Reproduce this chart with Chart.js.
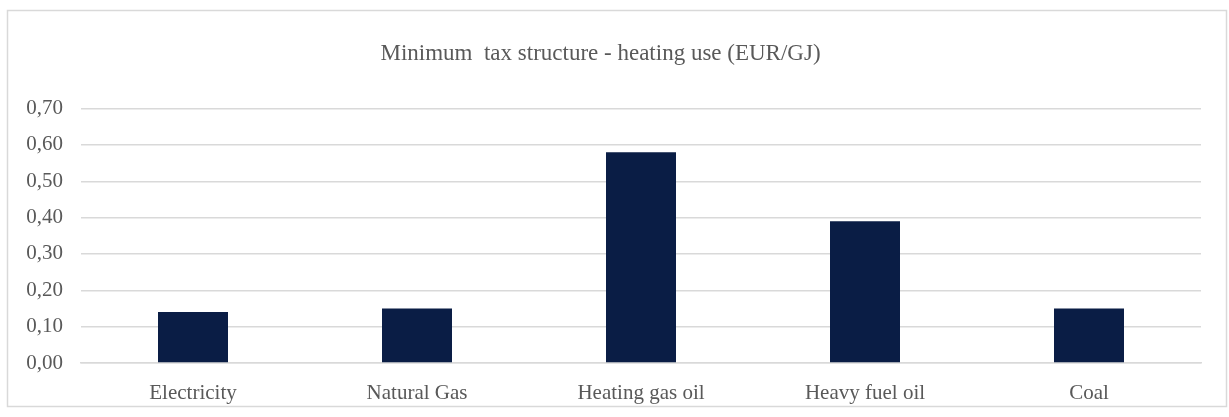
<!DOCTYPE html>
<html>
<head>
<meta charset="utf-8">
<title>Minimum tax structure - heating use</title>
<script src="https://cdn.jsdelivr.net/npm/chart.js@4/dist/chart.umd.min.js"></script>
<style>
    html, body { margin: 0; padding: 0; background: #ffffff; }
    #wrap { width: 1229px; height: 417px; }
</style>
</head>
<body>
<div id="wrap"><canvas id="taxChart" width="1229" height="417"></canvas></div>
<script>
// ==========================================
// Minimum tax structure - heating use
// ==========================================

const categories = ['Electricity', 'Natural Gas', 'Heating gas oil', 'Heavy fuel oil', 'Coal'];
const minTaxEurPerGj = [0.14, 0.15, 0.58, 0.39, 0.15];
const yTicks = [0, 0.1, 0.2, 0.3, 0.4, 0.5, 0.6, 0.7];

const SERIF = "'Liberation Serif', 'Times New Roman', serif";
const TEXT_GREY = '#595959';
const GRID_GREY = '#d9d9d9';

// Thin light frame around the whole chart
const frame = {
    id: 'frame',
    beforeDraw(chart) {
        const c = chart.ctx;
        c.save();
        c.fillStyle = '#ffffff';
        c.fillRect(0, 0, chart.width, chart.height);
        c.strokeStyle = GRID_GREY;
        c.lineWidth = 1.5;
        c.strokeRect(7.5, 10.5, 1219, 396);
        c.restore();
    }
};

new Chart(document.getElementById('taxChart'), {
    type: 'bar',
    data: {
        labels: categories,
        datasets: [{
            label: 'EUR/GJ',
            data: minTaxEurPerGj,
            backgroundColor: '#0a1d45',
            borderWidth: 0,
            categoryPercentage: 1,
            barPercentage: 0.3125
        }]
    },
    options: {
        responsive: false,
        animation: false,
        layout: {
            padding: { left: 0, right: 28, top: 0, bottom: 12 }
        },
        plugins: {
            legend: { display: false },
            tooltip: { enabled: false },
            title: {
                display: true,
                text: 'Minimum  tax structure - heating use (EUR/GJ)',
                color: TEXT_GREY,
                font: { family: SERIF, size: 23, weight: 'normal' },
                padding: { top: 40, bottom: 41 }
            }
        },
        scales: {
            x: {
                // fixed band under the plot for the category names
                afterFit(scale) { scale.height = 42; },
                grid: { display: false, drawTicks: false },
                border: { display: true, color: GRID_GREY, width: 1.5 },
                ticks: {
                    color: TEXT_GREY,
                    font: { family: SERIF, size: 21 },
                    padding: 18
                }
            },
            y: {
                min: 0,
                max: 0.7,
                afterFit(scale) { scale.width = 81; },
                afterBuildTicks(scale) {
                    scale.ticks = yTicks.map(v => ({ value: v }));
                },
                grid: {
                    color: GRID_GREY,
                    lineWidth: 1.5,
                    drawTicks: false
                },
                border: { display: false },
                ticks: {
                    color: TEXT_GREY,
                    font: { family: SERIF, size: 21 },
                    padding: 18,
                    callback: v => Number(v).toFixed(2).replace('.', ',')
                }
            }
        }
    },
    plugins: [frame]
});
</script>
</body>
</html>
